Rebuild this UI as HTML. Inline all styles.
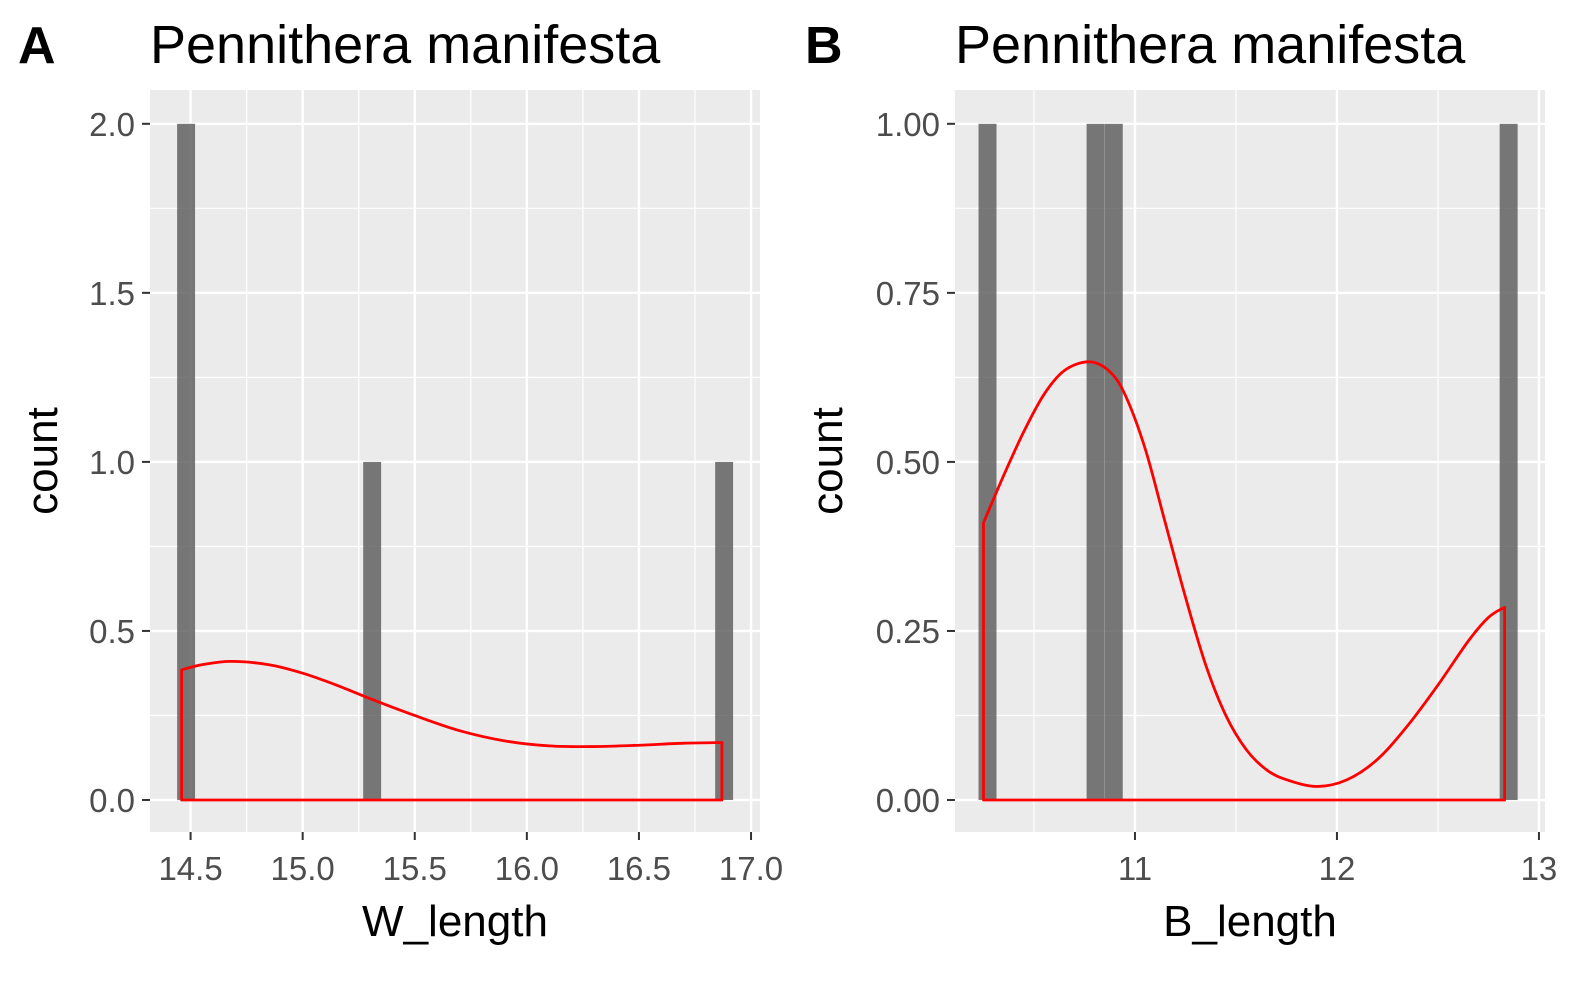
<!DOCTYPE html>
<html><head><meta charset="utf-8"><style>
body{margin:0;background:#fff;}
svg text{font-family:"Liberation Sans",Arial,sans-serif;}
</style></head><body>
<svg id="chart" width="1593" height="984" xmlns="http://www.w3.org/2000/svg"></svg>
<script>
// Panel A data
const aBinCenters = [14.48, 15.31, 16.88];
const aCounts = [2, 1, 1];
const aBinWidth = 0.08;
const aDensX = [14.46, 14.55, 14.68, 14.85, 15.0, 15.15, 15.3, 15.5, 15.7, 15.9, 16.1, 16.3, 16.5, 16.7, 16.87];
const aDensY = [0.385, 0.40, 0.41, 0.40, 0.375, 0.34, 0.30, 0.25, 0.205, 0.175, 0.16, 0.158, 0.162, 0.168, 0.17];
const aXTicks = [14.5, 15.0, 15.5, 16.0, 16.5, 17.0];
const aYTicks = [0, 0.5, 1.0, 1.5, 2.0];
const aYLabels = ["0.0", "0.5", "1.0", "1.5", "2.0"];
// Panel B data
const bBinCenters = [10.27, 10.805, 10.895, 12.85];
const bCounts = [1, 1, 1, 1];
const bBinWidth = 0.089;
const bDensX = [10.25, 10.35, 10.45, 10.55, 10.65, 10.77, 10.87, 10.95, 11.05, 11.15, 11.25, 11.35, 11.45, 11.55, 11.65, 11.75, 11.9, 12.05, 12.2, 12.35, 12.5, 12.65, 12.75, 12.83];
const bDensY = [0.41, 0.48, 0.545, 0.6, 0.635, 0.648, 0.635, 0.60, 0.52, 0.41, 0.30, 0.20, 0.125, 0.075, 0.045, 0.03, 0.02, 0.03, 0.06, 0.11, 0.17, 0.235, 0.27, 0.285];
const bXTicks = [11, 12, 13];
const bYTicks = [0, 0.25, 0.5, 0.75, 1.0];
const bYLabels = ["0.00", "0.25", "0.50", "0.75", "1.00"];

const NS = "http://www.w3.org/2000/svg";
const svg = document.getElementById("chart");
function mk(tag, attrs, parent) {
  const e = document.createElementNS(NS, tag);
  for (const k in attrs) e.setAttribute(k, attrs[k]);
  (parent || svg).appendChild(e);
  return e;
}

function panel(cfg) {
  const g = mk("g", {});
  
  
  const L = cfg.left, R = cfg.right, T = 90, B = 832;
  const sx = v => L + (v - cfg.xmin) / (cfg.xmax - cfg.xmin) * (R - L);
  const sy = v => B - (v - cfg.ymin) / (cfg.ymax - cfg.ymin) * (B - T);
  const bg = mk("rect", {x: L, y: T, width: R - L, height: B - T, fill: "#ebebeb"}, g);
  
  
  for (let i = 0; i < cfg.yTicks.length - 1; i++) {
    const y = sy((cfg.yTicks[i] + cfg.yTicks[i + 1]) / 2);
    mk("line", {x1: L, x2: R, y1: y, y2: y, stroke: "#fff", "stroke-width": 1.2}, g);
  }
  const ystep = cfg.yTicks[1] - cfg.yTicks[0];
  const ytop = cfg.yTicks[cfg.yTicks.length - 1] + ystep / 2;
  if (ytop < cfg.ymax) mk("line", {x1: L, x2: R, y1: sy(ytop), y2: sy(ytop), stroke: "#fff", "stroke-width": 1.2}, g);
  const xstep = cfg.xTicks[1] - cfg.xTicks[0];
  for (let v = cfg.xTicks[0] - xstep / 2; v <= cfg.xmax; v += xstep) {
    if (v < cfg.xmin) continue;
    mk("line", {x1: sx(v), x2: sx(v), y1: T, y2: B, stroke: "#fff", "stroke-width": 1.2}, g);
  }
  cfg.yTicks.forEach(v => mk("line", {x1: L, x2: R, y1: sy(v), y2: sy(v), stroke: "#fff", "stroke-width": 2.4}, g));
  cfg.xTicks.forEach(v => mk("line", {x1: sx(v), x2: sx(v), y1: T, y2: B, stroke: "#fff", "stroke-width": 2.4}, g));
  cfg.centers.forEach((c, i) => {
    const r = mk("rect", {x: sx(c - cfg.bw / 2), y: sy(cfg.counts[i]), width: sx(c + cfg.bw / 2) - sx(c - cfg.bw / 2), height: sy(0) - sy(cfg.counts[i]), fill: "#595959", "fill-opacity": 0.8}, g);
    
    
  });
  // density: smooth Catmull-Rom
  const pts = cfg.dx.map((x, i) => [sx(x), sy(cfg.dy[i])]);
  let d = "M" + pts[0][0] + "," + sy(0) + " L" + pts[0][0] + "," + pts[0][1];
  for (let i = 0; i < pts.length - 1; i++) {
    const p0 = pts[Math.max(0, i - 1)], p1 = pts[i], p2 = pts[i + 1], p3 = pts[Math.min(pts.length - 1, i + 2)];
    const c1 = [p1[0] + (p2[0] - p0[0]) / 6, p1[1] + (p2[1] - p0[1]) / 6];
    const c2 = [p2[0] - (p3[0] - p1[0]) / 6, p2[1] - (p3[1] - p1[1]) / 6];
    d += " C" + c1[0] + "," + c1[1] + " " + c2[0] + "," + c2[1] + " " + p2[0] + "," + p2[1];
  }
  d += " L" + pts[pts.length - 1][0] + "," + sy(0) + " Z";
  const p = mk("path", {d: d, fill: "none", stroke: "#ff0000", "stroke-width": 2.8, "stroke-linejoin": "round"}, g);
  
  
  cfg.yTicks.forEach((v, i) => {
    mk("line", {x1: L - 8, x2: L, y1: sy(v), y2: sy(v), stroke: "#333", "stroke-width": 2}, g);
    const t = mk("text", {x: L - 15, y: sy(v) + 12, "text-anchor": "end", "font-size": 33, fill: "#4d4d4d"}, g);
    t.textContent = cfg.yLabels[i];
    
    
  });
  cfg.xTicks.forEach((v, i) => {
    mk("line", {x1: sx(v), x2: sx(v), y1: B, y2: B + 8, stroke: "#333", "stroke-width": 2}, g);
    const t = mk("text", {x: sx(v), y: B + 48, "text-anchor": "middle", "font-size": 33, fill: "#4d4d4d"}, g);
    t.textContent = cfg.xLabels[i];
    
    
  });
  const xt = mk("text", {x: (L + R) / 2, y: 936, "text-anchor": "middle", "font-size": 44, fill: "#000"}, g);
  xt.textContent = cfg.xTitle;
  
  
  const yt = mk("text", {x: 0, y: 0, transform: "translate(" + cfg.yTitleX + "," + ((T + B) / 2) + ") rotate(-90)", "text-anchor": "middle", "font-size": 44, fill: "#000"}, g);
  yt.textContent = "count";
  
  
  const tag = mk("text", {x: cfg.tagX, y: 63, "font-size": 52, "font-weight": "bold", fill: "#000"}, g);
  tag.textContent = cfg.tag;
  
  
  const ti = mk("text", {x: L, y: 63, "font-size": 54, fill: "#000"}, g);
  ti.textContent = "Pennithera manifesta";
  
  
}

panel({name: "panel-a", left: 150, right: 760, xmin: 14.319, xmax: 17.04, ymin: -0.0947, ymax: 2.1,
  xTicks: aXTicks, xLabels: ["14.5","15.0","15.5","16.0","16.5","17.0"], yTicks: aYTicks, yLabels: aYLabels,
  centers: aBinCenters, counts: aCounts, bw: aBinWidth, dx: aDensX, dy: aDensY, xTitle: "W_length", tag: "A", tagX: 18, yTitleX: 57});
panel({name: "panel-b", left: 955, right: 1545, xmin: 10.109, xmax: 13.03, ymin: -0.0473, ymax: 1.05,
  xTicks: bXTicks, xLabels: ["11","12","13"], yTicks: bYTicks, yLabels: bYLabels,
  centers: bBinCenters, counts: bCounts, bw: bBinWidth, dx: bDensX, dy: bDensY, xTitle: "B_length", tag: "B", tagX: 805, yTitleX: 842});
</script>
</body></html>
